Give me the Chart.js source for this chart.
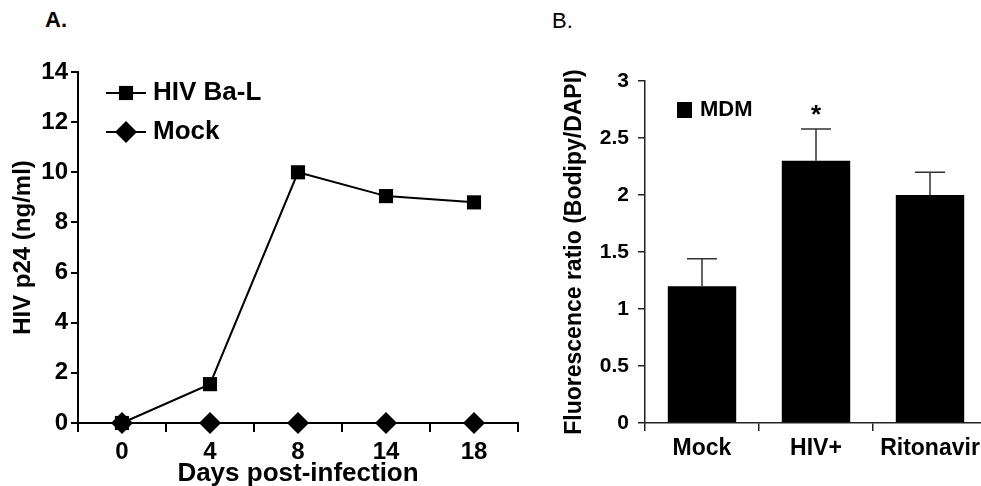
<!DOCTYPE html>
<html>
<head>
<meta charset="utf-8">
<script src="https://cdn.jsdelivr.net/npm/chart.js"></script>
<style>
  html, body { margin: 0; padding: 0; background: #fff; overflow: hidden; }
  body { width: 981px; height: 486px; position: relative; font-family: "Liberation Sans", Arial, sans-serif; }
  .panel { position: absolute; top: 0; height: 486px; }
  #panelA { left: 0; width: 520px; }
  #panelB { left: 520px; width: 470px; }
  .tag { position: absolute; font-size: 22px; line-height: 25px; color: #000; }
</style>
</head>
<body>
<div class="tag" style="left:45px; top:7px; font-weight:bold;">A.</div>
<div class="tag" style="left:552px; top:8px;">B.</div>
<div class="panel" id="panelA"><canvas id="chartA"></canvas></div>
<div class="panel" id="panelB"><canvas id="chartB"></canvas></div>
<script>
// Panel A: p24 over time
const days = ['0', '4', '8', '14', '18'];
const hivBaL = [0, 1.55, 10, 9.05, 8.8];
const mock = [0, 0, 0, 0, 0];

// Panel B: lipid staining
const groups = ['Mock', 'HIV+', 'Ritonavir'];
const mdm = [1.2, 2.3, 2.0];
const mdmErr = [0.24, 0.28, 0.2];
const marks = ['', '*', ''];

const FONT = '"Liberation Sans", Arial, sans-serif';

function drawMarker(ctx, style, x, y, r) {
    ctx.beginPath();
    if (style === 'rectRot') {
        ctx.moveTo(x, y - r);
        ctx.lineTo(x + r, y);
        ctx.lineTo(x, y + r);
        ctx.lineTo(x - r, y);
        ctx.closePath();
    } else {
        let s = r * Math.SQRT1_2;
        ctx.rect(x - s, y - s, 2 * s, 2 * s);
    }
    ctx.fill();
}

// legend with line through the marker, like the original
const lineLegend = {
    id: 'lineLegend',
    afterDatasetsDraw(chart) {
        let ctx = chart.ctx;
        ctx.save();
        chart.data.datasets.forEach((ds, i) => {
            let x = 106, y = 93 + i * 39;
            ctx.strokeStyle = '#000';
            ctx.fillStyle = '#000';
            ctx.lineWidth = 2;
            ctx.beginPath();
            ctx.moveTo(x, y);
            ctx.lineTo(x + 40, y);
            ctx.stroke();
            drawMarker(ctx, ds.pointStyle, x + 20, y, ds.pointRadius);
            ctx.font = `bold 26px ${FONT}`;
            ctx.textBaseline = 'middle';
            ctx.textAlign = 'left';
            ctx.fillText(ds.label, x + 47, y);
        });
        ctx.restore();
    }
};

const errorBars = {
    id: 'errorBars',
    afterDatasetsDraw(chart) {
        let ctx = chart.ctx;
        let yScale = chart.scales.y;
        let meta = chart.getDatasetMeta(0);
        ctx.save();
        ctx.strokeStyle = '#333';
        ctx.lineWidth = 1.5;
        meta.data.forEach((bar, i) => {
            let top = yScale.getPixelForValue(mdm[i] + mdmErr[i]);
            ctx.beginPath();
            ctx.moveTo(bar.x, bar.y);
            ctx.lineTo(bar.x, top);
            ctx.moveTo(bar.x - 15, top);
            ctx.lineTo(bar.x + 15, top);
            ctx.stroke();
            if (marks[i]) {
                ctx.fillStyle = '#000';
                ctx.font = `bold 26px ${FONT}`;
                ctx.textAlign = 'center';
                ctx.textBaseline = 'alphabetic';
                ctx.fillText(marks[i], bar.x, top - 6);
            }
        });
        // box legend
        let ds = chart.data.datasets[0];
        ctx.fillStyle = '#000';
        ctx.fillRect(157, 102, 15, 16);
        ctx.font = `bold 22px ${FONT}`;
        ctx.textAlign = 'left';
        ctx.textBaseline = 'middle';
        ctx.fillText(ds.label, 180, 110);
        ctx.restore();
    }
};

new Chart(document.getElementById('chartA'), {
    type: 'line',
    data: {
        labels: days,
        datasets: [{
            label: 'HIV Ba-L',
            data: hivBaL,
            borderColor: '#000',
            backgroundColor: '#000',
            borderWidth: 2,
            pointStyle: 'rect',
            pointRadius: 10,
            pointHoverRadius: 10,
            pointBorderWidth: 0,
            clip: false
        }, {
            label: 'Mock',
            data: mock,
            borderColor: '#000',
            backgroundColor: '#000',
            borderWidth: 2,
            pointStyle: 'rectRot',
            pointRadius: 11,
            pointHoverRadius: 11,
            pointBorderWidth: 0,
            clip: false
        }]
    },
    options: {
        responsive: true,
        maintainAspectRatio: false,
        animation: false,
        layout: { autoPadding: false, padding: { left: 0, right: 2, top: 72, bottom: 0 } },
        scales: {
            x: {
                offset: true,
                grid: { drawOnChartArea: false, offset: true, tickLength: 9, color: '#000', lineWidth: 2 },
                border: { color: '#000', width: 2 },
                ticks: { color: '#000', padding: 6, font: { family: FONT, size: 24, weight: 'bold' } },
                title: {
                    display: true,
                    text: 'Days post-infection',
                    color: '#000',
                    padding: { top: 0, bottom: 0 },
                    font: { family: FONT, size: 26, weight: 'bold', lineHeight: 0.95 }
                },
                afterFit: scale => { scale.height = 63; }
            },
            y: {
                min: 0,
                max: 14,
                ticks: { stepSize: 2, color: '#000', padding: 3, font: { family: FONT, size: 24, weight: 'bold' } },
                grid: { drawOnChartArea: false, tickLength: 7, color: '#000', lineWidth: 2 },
                border: { color: '#000', width: 2 },
                title: {
                    display: true,
                    text: 'HIV p24 (ng/ml)',
                    color: '#000',
                    padding: { top: 9, bottom: 0 },
                    font: { family: FONT, size: 24, weight: 'bold' }
                },
                afterFit: scale => { scale.width = 78; }
            }
        },
        plugins: {
            legend: { display: false },
            tooltip: { enabled: false }
        }
    },
    plugins: [lineLegend]
});

new Chart(document.getElementById('chartB'), {
    type: 'bar',
    data: {
        labels: groups,
        datasets: [{
            label: 'MDM',
            data: mdm,
            backgroundColor: '#000',
            borderWidth: 0,
            barPercentage: 0.6,
            categoryPercentage: 1.0
        }]
    },
    options: {
        responsive: true,
        maintainAspectRatio: false,
        animation: false,
        layout: { autoPadding: false, padding: { left: 0, right: 3, top: 81, bottom: 0 } },
        scales: {
            x: {
                grid: { drawOnChartArea: false, offset: true, tickLength: 8, color: '#222', lineWidth: 1.5 },
                border: { color: '#222', width: 1.5 },
                ticks: { color: '#000', padding: 4, font: { family: FONT, size: 23, weight: 'bold' } },
                afterFit: scale => { scale.height = 63; }
            },
            y: {
                min: 0,
                max: 3,
                ticks: {
                    stepSize: 0.5,
                    color: '#000',
                    padding: 9,
                    font: { family: FONT, size: 21, weight: 'bold' },
                    callback: value => String(value)
                },
                grid: { drawOnChartArea: false, tickLength: 7, color: '#222', lineWidth: 1.5 },
                border: { color: '#222', width: 1.5 },
                title: {
                    display: true,
                    text: 'Fluorescence ratio (Bodipy/DAPI)',
                    color: '#000',
                    padding: { top: 41, bottom: 0 },
                    font: { family: FONT, size: 23, weight: 'bold' }
                },
                afterFit: scale => { scale.width = 125; }
            }
        },
        plugins: {
            legend: { display: false },
            tooltip: { enabled: false }
        }
    },
    plugins: [errorBars]
});
</script>
</body>
</html>
